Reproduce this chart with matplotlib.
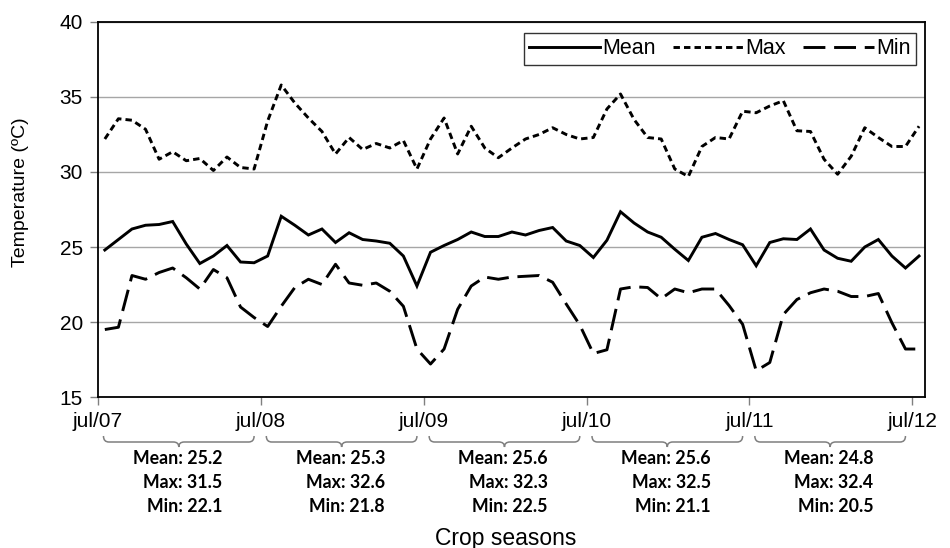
import matplotlib.pyplot as plt
from matplotlib.path import Path
from matplotlib.patches import PathPatch
from matplotlib import transforms

plt.rcParams['font.family'] = ['Liberation Sans', 'DejaVu Sans']

# monthly temperatures, jul/07 .. jul/12 (mid-month values)
t_mean = [24.8, 25.5, 26.2, 26.45, 26.5, 26.7, 25.2, 23.9, 24.4, 25.1, 24.0, 23.95,
          24.4, 27.05, 26.45, 25.8, 26.2, 25.3, 25.95, 25.5, 25.4, 25.25, 24.4, 22.4,
          24.65, 25.1, 25.5, 26.0, 25.7, 25.7, 26.0, 25.8, 26.1, 26.3, 25.4, 25.1,
          24.3, 25.45, 27.35, 26.6, 26.0, 25.65, 24.85, 24.1, 25.65, 25.9, 25.5, 25.15,
          23.75, 25.3, 25.55, 25.5, 26.2, 24.8, 24.25, 24.05, 25.0, 25.5, 24.4, 23.6,
          24.4]
t_max = [32.2, 33.55, 33.45, 32.85, 30.85, 31.35, 30.75, 30.9, 30.1, 31.0, 30.3, 30.2,
         33.4, 35.8, 34.6, 33.6, 32.7, 31.2, 32.3, 31.5, 31.9, 31.6, 32.1, 30.2,
         32.2, 33.6, 31.2, 33.05, 31.6, 30.95, 31.6, 32.2, 32.5, 32.95, 32.5, 32.2,
         32.3, 34.2, 35.2, 33.5, 32.3, 32.2, 30.2, 29.7, 31.7, 32.3, 32.2, 34.05,
         33.95, 34.4, 34.75, 32.75, 32.7, 30.85, 29.85, 31.05, 32.95, 32.3, 31.7, 31.7,
         33.05]
t_min = [19.5, 19.65, 23.1, 22.85, 23.3, 23.6, 22.95, 22.2, 23.5, 22.95, 21.0, 20.3,
         19.7, 21.05, 22.3, 22.85, 22.5, 23.85, 22.6, 22.45, 22.6, 22.05, 21.05, 18.2,
         17.2, 18.2, 20.85, 22.4, 23.0, 22.85, 23.0, 23.05, 23.1, 22.65, 21.2, 19.8,
         17.9, 18.15, 22.2, 22.35, 22.3, 21.55, 22.2, 21.95, 22.2, 22.2, 21.1, 19.85,
         16.75, 17.3, 20.5, 21.5, 21.95, 22.2, 22.05, 21.7, 21.7, 21.9, 19.95, 18.2,
         18.2]

tick_labels = ['jul/07', 'jul/08', 'jul/09', 'jul/10', 'jul/11', 'jul/12']
season_mean = [25.2, 25.3, 25.6, 25.6, 24.8]
season_max = [31.5, 32.6, 32.3, 32.5, 32.4]
season_min = [22.1, 21.8, 22.5, 21.1, 20.5]

months = [i + 0.5 for i in range(len(t_mean))]

fig = plt.figure(figsize=(9.5, 5.48), dpi=100)
ax = fig.add_axes([0.1032, 0.2755, 0.8705, 0.6844])

ax.plot(months, t_mean, color='black', lw=2.1, solid_joinstyle='miter', label='Mean')
ax.plot(months, t_max, color='black', lw=2.1, dashes=(2.2, 1.4), label='Max')
ax.plot(months, t_min, color='black', lw=2.1, dashes=(7.5, 3.0), label='Min')

ax.set_xlim(0, 60.94)
ax.set_ylim(15, 40)
ax.set_yticks(range(15, 41, 5))
ax.set_xticks(range(0, 61, 12))
ax.set_xticklabels(tick_labels)
ax.grid(axis='y', color='#a6a6a6', lw=1)
ax.set_axisbelow(True)
for sp in ax.spines.values():
    sp.set_color('black')
    sp.set_linewidth(1.3)
ax.tick_params(axis='both', direction='out', length=6, color='#808080', width=1)
ax.tick_params(axis='y', labelsize=15, pad=5)
ax.tick_params(axis='x', labelsize=15, pad=5)

leg = ax.legend(loc='upper right', bbox_to_anchor=(0.989, 0.971), ncol=3,
                fontsize=15.5, frameon=True, fancybox=False, borderaxespad=0,
                handlelength=3.3, handletextpad=0.08, columnspacing=0.8,
                borderpad=0.25)
leg.get_frame().set_edgecolor('black')
leg.get_frame().set_linewidth(1)

fig.text(0.022, 1 - 192 / 548, 'Temperature (ºC)', rotation=90, fontsize=14,
         ha='center', va='center')
fig.text(506 / 950, 1 - 538 / 548, 'Crop seasons', fontsize=16.5,
         ha='center', va='center')

# braces and season summaries below the axis
trans = transforms.blended_transform_factory(ax.transData, fig.transFigure)
y_top, y_mid, y_bot = 1 - 436 / 548, 1 - 442 / 548, 1 - 447 / 548
r = 0.4
for k in range(len(season_mean)):
    x0 = 12 * k + 0.4
    x1 = 12 * k + 11.5
    xc = (x0 + x1) / 2
    verts = [(x0, y_top), (x0, y_mid), (x0 + r, y_mid), (xc - r, y_mid),
             (xc, y_mid), (xc, y_bot), (xc, y_mid), (xc + r, y_mid),
             (x1 - r, y_mid), (x1, y_mid), (x1, y_top)]
    codes = [Path.MOVETO, Path.CURVE3, Path.CURVE3, Path.LINETO,
             Path.CURVE3, Path.CURVE3, Path.CURVE3, Path.CURVE3,
             Path.LINETO, Path.CURVE3, Path.CURVE3]
    ax.add_patch(PathPatch(Path(verts, codes), transform=trans, fill=False,
                           edgecolor='#7f7f7f', lw=1.1, clip_on=False))
    lines = ['Mean: %.1f' % season_mean[k], 'Max: %.1f' % season_max[k],
             'Min: %.1f' % season_min[k]]
    for j, txt in enumerate(lines):
        ax.text(xc + 3.2, 1 - (459 + 24 * j) / 548, txt, transform=trans,
                ha='right', va='center', fontsize=12.8, fontweight='bold',
                family=['Lato', 'DejaVu Sans'])

fig.savefig('out.png', dpi=100)
